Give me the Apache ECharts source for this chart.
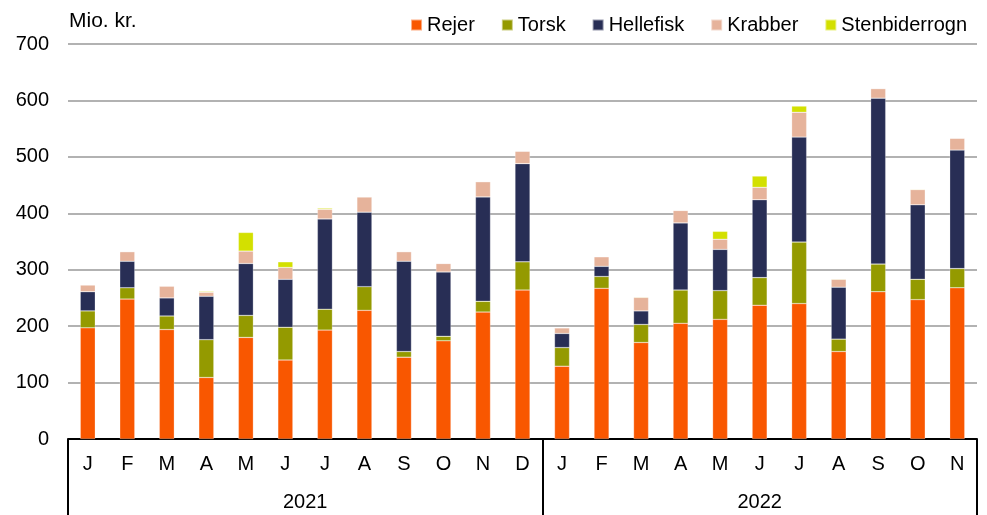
<!DOCTYPE html>
<html><head><meta charset="utf-8">
<script src="https://cdn.jsdelivr.net/npm/echarts@6/dist/echarts.min.js"></script>
<style>html,body{margin:0;padding:0;background:#fff}#c{width:987px;height:515px}</style>
</head><body><div id="c"></div>
<script>
const months = ['J','F','M','A','M','J','J','A','S','O','N','D','J','F','M','A','M','J','J','A','S','O','N'];
const years = ['2021','2022'];
const monthsPerYear = [12, 11];
const seriesNames = ['Rejer','Torsk','Hellefisk','Krabber','Stenbiderrogn'];
const rejer =        [197,248,194,109,180,140,193,228,145,174,225,264, 129,267,171,205,212,237,240,155,261,247,268];
const torsk =        [30,20,24,67,39,58,37,42,10,8,19,50, 33,21,32,59,51,49,109,22,49,36,34];
const hellefisk =    [34,47,32,77,92,85,160,132,160,114,185,174, 25,18,24,119,73,138,186,92,294,132,210];
const krabber =      [12,17,21,7,22,21,17,27,17,15,27,22, 10,17,24,22,18,22,44,14,17,27,21];
const stenbiderrogn= [0,0,0,1.5,33,10,2,0,0,0,0,0, 0,0,1,0,14,20,11,1,0,1,0];
const yTicks = [0,100,200,300,400,500,600,700];
const colors = ['#F95700','#949A00','#282E55','#E6B39B','#D3E000'];

const valuesList = [rejer, torsk, hellefisk, krabber, stenbiderrogn];
const total = months.length;
const boundaries = [0];
monthsPerYear.forEach(n => boundaries.push(boundaries[boundaries.length-1] + n));
const yearCenters = monthsPerYear.map((n,i) => boundaries[i] + n/2);

const font = 'Liberation Sans, Arial, sans-serif';
const chart = echarts.init(document.getElementById('c'), null, {renderer:'canvas'});
chart.setOption({
  animation: false,
  textStyle: {fontFamily: font},
  grid: {left: 68, right: 10, top: 44, bottom: 76, containLabel: false},
  title: {text: 'Mio. kr.', left: 64, top: 6, textStyle: {fontFamily: font, fontSize: 21, fontWeight: 'normal', color: '#000'}},
  legend: {
    data: seriesNames, right: 15, top: 10, itemWidth: 11, itemHeight: 11, itemGap: 26,
    icon: 'rect',
    textStyle: {fontFamily: font, fontSize: 20, color: '#000'}
  },
  xAxis: [
    {
      type: 'category', data: months, boundaryGap: true,
      axisLine: {show: true, lineStyle: {color: '#000', width: 2}},
      axisTick: {show: false},
      axisLabel: {fontFamily: font, fontSize: 20, color: '#000', margin: 15, interval: 0}
    },
    {
      type: 'value', min: 0, max: total, position: 'bottom',
      axisLine: {show: false},
      splitLine: {show: false},
      axisTick: {show: true, customValues: boundaries, length: 76, lineStyle: {color: '#000', width: 2}},
      axisLabel: {show: true, customValues: yearCenters, fontFamily: font, fontSize: 20, color: '#000', margin: 53,
        formatter: v => { const i = yearCenters.indexOf(v); return i >= 0 ? years[i] : ''; }}
    }
  ],
  yAxis: {
    type: 'value', min: 0, max: 700, interval: 100,
    axisLine: {show: false}, axisTick: {show: false},
    axisLabel: {fontFamily: font, fontSize: 20, color: '#000', margin: 19,
      formatter: v => yTicks.includes(v) ? String(v) : ''},
    splitLine: {lineStyle: {color: '#999', width: 1.5}}
  },
  series: seriesNames.map((n, i) => ({
    name: n, type: 'bar', stack: 'a', xAxisIndex: 0, data: valuesList[i],
    barWidth: 15,
    itemStyle: {color: colors[i], borderColor: 'rgba(255,255,255,0.5)', borderWidth: 0.5}
  })),
  color: colors
});
</script></body></html>
